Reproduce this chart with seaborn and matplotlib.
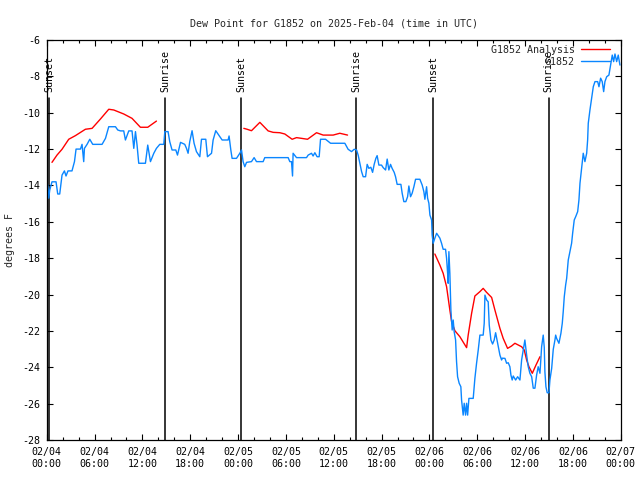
import pandas as pd
import matplotlib.pyplot as plt
import matplotlib.dates as mdates
from matplotlib.lines import Line2D
import seaborn as sns

START = pd.Timestamp("2025-02-04 00:00")
END = pd.Timestamp("2025-02-07 00:00")

# G1852 observations: hours since 02/04 00:00 UTC, dew point (F)
obs_hours = [
    0.13, 0.25, 0.38, 0.66, 1.17, 1.38, 1.63, 1.92, 2.22, 2.42, 2.67, 3.17,
    3.48, 3.68, 4.23, 4.43, 4.64, 4.73, 5.06, 5.40, 5.77, 6.94, 7.37, 7.78,
    8.62, 8.91, 9.25, 9.66, 9.87, 10.29, 10.70, 10.92, 11.13, 11.33, 11.54,
    12.38, 12.67, 13.01, 13.43, 13.76, 14.18, 14.68, 14.81, 15.22, 15.43,
    15.72, 16.19, 16.40, 16.78, 17.31, 17.53, 17.73, 17.94, 18.23, 18.48,
    18.78, 19.20, 19.41, 19.95, 20.16, 20.67, 20.87, 21.20, 21.71, 22.00,
    22.75, 22.87, 23.09, 23.25, 23.80, 24.22, 24.43, 24.63, 24.84, 25.06,
    25.68, 26.01, 26.31, 27.14, 27.35, 30.28, 30.49, 30.70, 30.83, 30.90,
    31.33, 32.58, 32.79, 33.21, 33.41, 33.63, 33.91, 34.17, 34.34, 34.97,
    35.60, 37.39, 37.80, 38.23, 38.56, 38.86, 39.06, 39.27, 39.49, 39.69,
    39.99, 40.19, 40.40, 40.65, 40.87, 41.07, 41.28, 41.44, 41.66, 41.99,
    42.20, 42.50, 42.70, 42.91, 43.12, 43.32, 43.58, 43.75, 43.95, 44.42,
    44.58, 44.79, 45.04, 45.26, 45.42, 45.63, 45.83, 46.05, 46.26, 46.80,
    47.09, 47.30, 47.43, 47.64, 47.77, 47.93, 48.06, 48.27, 48.34, 48.47,
    48.68, 48.90, 49.31, 49.52, 49.72, 50.02, 50.15, 50.28, 50.35, 50.44,
    50.56, 50.69, 50.85, 50.98, 51.10, 51.28, 51.40, 51.53, 51.73, 51.94,
    52.03, 52.23, 52.36, 52.53, 52.66, 52.79, 52.95, 53.49, 53.70, 53.91,
    54.12, 54.33, 54.74, 54.87, 54.96, 55.17, 55.37, 55.50, 55.71, 55.92,
    56.12, 56.30, 56.55, 56.84, 57.05, 57.13, 57.47, 57.68, 57.88, 58.09,
    58.22, 58.38, 58.51, 58.81, 59.06, 59.35, 59.56, 59.76, 59.97, 60.19,
    60.39, 60.60, 60.82, 61.02, 61.23, 61.44, 61.64, 61.86, 62.07, 62.27,
    62.40, 62.48, 62.61, 62.77, 62.99, 63.11, 63.33, 63.53, 63.74, 63.83,
    63.95, 64.24, 64.49, 64.66, 64.78, 64.91, 65.08, 65.21, 65.41, 65.62,
    65.83, 65.96, 66.16, 66.34, 66.59, 66.75, 66.88, 67.09, 67.29, 67.50,
    67.72, 67.84, 67.92, 68.13, 68.34, 68.55, 68.76, 69.10, 69.26, 69.47,
    69.67, 69.85, 70.01, 70.23, 70.51, 70.76, 70.93, 71.10, 71.27, 71.48,
    71.68, 71.89,
]
obs_dewpt = [
    -13.98, -14.70, -14.25, -13.80, -13.80, -14.47, -14.47, -13.43, -13.20,
    -13.48, -13.20, -13.20, -12.69, -12.00, -12.00, -11.74, -12.69, -11.96,
    -11.74, -11.46, -11.74, -11.74, -11.41, -10.77, -10.77, -10.95, -11.00,
    -11.00, -11.50, -11.00, -11.00, -11.96, -11.04, -11.78, -12.78, -12.78,
    -11.78, -12.69, -12.23, -11.96, -11.74, -11.74, -11.04, -11.04, -11.59,
    -12.05, -12.05, -12.33, -11.63, -11.74, -11.96, -12.23, -11.59, -10.99,
    -11.68, -12.14, -12.42, -11.46, -11.46, -12.42, -12.23, -11.50, -10.99,
    -11.32, -11.50, -11.50, -11.28, -12.05, -12.51, -12.51, -12.23, -12.05,
    -12.69, -12.97, -12.73, -12.69, -12.47, -12.69, -12.69, -12.47, -12.47,
    -12.69, -12.69, -13.48, -12.23, -12.47, -12.47, -12.33, -12.23, -12.38,
    -12.20, -12.42, -12.42, -11.46, -11.46, -11.68, -11.68, -12.01, -12.14,
    -12.01, -12.05, -12.33, -12.78, -13.24, -13.52, -13.52, -12.84, -13.06,
    -13.00, -13.28, -12.84, -12.51, -12.36, -12.88, -12.88, -13.02, -13.15,
    -12.55, -13.15, -12.84, -13.06, -13.28, -13.52, -13.94, -13.94, -14.43,
    -14.89, -14.89, -14.62, -14.03, -14.62, -14.43, -14.07, -13.66, -13.66,
    -13.98, -14.34, -14.76, -14.07, -14.70, -14.98, -15.63, -15.90, -16.73,
    -17.18, -16.90, -16.63, -16.90, -17.18, -17.51, -17.51, -18.01, -18.83,
    -19.38, -17.64, -18.83, -20.85, -21.95, -21.40, -22.04, -22.50, -23.69,
    -24.52, -24.88, -25.07, -25.80, -26.63, -25.98, -26.63, -25.98, -26.63,
    -25.71, -25.71, -24.61, -23.78, -23.05, -22.23, -22.23, -21.58, -20.03,
    -20.30, -20.40, -21.68, -22.50, -22.72, -22.50, -22.10, -22.68, -23.33,
    -23.60, -23.50, -23.51, -23.78, -23.75, -23.97, -24.43, -24.70, -24.48,
    -24.70, -24.52, -24.70, -23.60, -23.05, -22.50, -23.33, -23.97, -24.33,
    -24.52, -25.15, -25.15, -24.43, -23.97, -24.33, -22.87, -22.23, -22.90,
    -24.24, -25.07, -25.40, -25.40, -24.70, -24.06, -23.01, -22.50, -22.23,
    -22.41, -22.68, -22.13, -21.58, -20.94, -20.12, -19.48, -19.11, -18.10,
    -17.64, -17.18, -16.63, -15.90, -15.72, -15.44, -14.80, -13.88, -13.06,
    -12.23, -12.69, -12.23, -11.50, -10.58, -9.85, -9.21, -8.57, -8.29,
    -8.29, -8.57, -8.10, -8.29, -8.84, -8.29, -8.02, -7.93, -7.28, -6.83,
    -7.19, -6.77, -7.19, -6.83, -7.38,
]

# G1852 analysis, three separate pieces
ana_hours = [
    0.66, 1.29, 1.92, 2.76, 3.60, 4.85, 5.69, 6.73, 7.78, 8.41, 9.66, 10.70,
    11.75, 12.67, 13.76,
    24.72, 25.13, 25.68, 26.73, 27.77, 28.40, 29.24, 29.86, 30.78, 31.33,
    31.96, 32.71, 33.84, 34.67, 35.92, 36.76, 37.73,
    48.68, 49.31, 49.72, 50.15, 50.56, 50.78, 51.19, 51.82, 52.66, 52.86,
    53.29, 53.70, 54.33, 54.74, 55.17, 55.80, 56.21, 56.84, 57.25, 57.80,
    58.30, 58.72, 59.56, 59.89, 60.19, 60.48, 60.90, 61.36, 61.86,
]
ana_dewpt = [
    -12.73, -12.33, -12.01, -11.46, -11.26, -10.91, -10.86, -10.35, -9.81,
    -9.85, -10.07, -10.31, -10.80, -10.80, -10.46,
    -10.86, -10.91, -10.99, -10.53, -11.00, -11.08, -11.10, -11.17, -11.46,
    -11.37, -11.41, -11.46, -11.10, -11.23, -11.23, -11.13, -11.23,
    -17.77, -18.38, -18.83, -19.57, -20.85, -21.49, -21.99, -22.32, -22.92,
    -22.23, -21.03, -20.08, -19.84, -19.66, -19.88, -20.16, -20.85, -21.86,
    -22.41, -22.96, -22.83, -22.68, -22.87, -23.05, -23.60, -23.97, -24.33,
    -23.88, -23.42,
]
ana_piece = [1] * 15 + [2] * 17 + [3] * 29

sun_times = ["2025-02-04 00:17", "2025-02-04 14:53", "2025-02-05 00:25",
             "2025-02-05 14:51", "2025-02-06 00:28", "2025-02-06 14:56"]
sun_labels = ["Sunset", "Sunrise", "Sunset", "Sunrise", "Sunset", "Sunrise"]

YMIN, YMAX = -28, -6
SUN_LINE_TOP = -9.2
SUN_LABEL_Y = -8.85
FS = 7.2


def main():
    obs = pd.DataFrame({"hours": obs_hours, "dewpt": obs_dewpt})
    obs["time"] = START + pd.to_timedelta(obs["hours"], unit="h")
    ana = pd.DataFrame({"hours": ana_hours, "dewpt": ana_dewpt, "piece": ana_piece})
    ana["time"] = START + pd.to_timedelta(ana["hours"], unit="h")

    sns.set_style("ticks")
    plt.rcParams["font.family"] = ["DejaVu Sans Mono"]
    plt.rcParams["axes.unicode_minus"] = False

    fig = plt.figure(figsize=(6.4, 4.8), dpi=100)
    ax = fig.add_axes([0.073, 0.0833, 0.897, 0.8334])

    red = "#ff0000"
    blue = "#0a86ff"

    sns.lineplot(data=ana, x="time", y="dewpt", units="piece", estimator=None,
                 color=red, linewidth=1.0, ax=ax, legend=False)
    sns.lineplot(data=obs, x="time", y="dewpt", estimator=None,
                 color=blue, linewidth=1.0, ax=ax, legend=False)

    # sunrise / sunset markers
    top_frac = (SUN_LINE_TOP - YMIN) / (YMAX - YMIN)
    for t, lab in zip(sun_times, sun_labels):
        ts = pd.Timestamp(t)
        ax.axvline(ts, ymin=0, ymax=top_frac, color="black", linewidth=1.1, zorder=1)
        ax.text(ts, SUN_LABEL_Y, lab, rotation=90, ha="center", va="bottom",
                fontsize=FS, color="black")

    ax.set_xlim(START, END)
    ax.set_ylim(YMIN, YMAX)
    ax.set_yticks(range(YMIN, YMAX + 1, 2))
    ax.xaxis.set_major_locator(mdates.HourLocator(byhour=[0, 6, 12, 18]))
    ax.xaxis.set_minor_locator(mdates.HourLocator(byhour=range(0, 24, 2)))
    ax.xaxis.set_major_formatter(mdates.DateFormatter("%m/%d\n%H:%M"))

    ax.tick_params(which="both", direction="in", top=True, right=True,
                   colors="black", labelsize=FS, width=0.8)
    ax.tick_params(which="major", length=4, pad=5)
    ax.tick_params(which="minor", length=2)
    for sp in ax.spines.values():
        sp.set_color("black")
        sp.set_linewidth(0.9)

    ax.set_xlabel("")
    ax.set_ylabel("degrees F", fontsize=FS)
    ax.yaxis.set_label_coords(-0.056, 0.5)
    ax.set_title("Dew Point for G1852 on 2025-Feb-04 (time in UTC)",
                 fontsize=FS, pad=10)

    handles = [Line2D([], [], color=red, linewidth=1.0),
               Line2D([], [], color=blue, linewidth=1.0)]
    ax.legend(handles, ["G1852 Analysis", "G1852"], loc="upper right",
              bbox_to_anchor=(0.981, 0.988), frameon=False, markerfirst=False,
              fontsize=FS, handlelength=2.9, handletextpad=0.6,
              borderaxespad=0, borderpad=0, labelspacing=0.2)

    fig.savefig("out.png", dpi=100)


if __name__ == "__main__":
    main()
